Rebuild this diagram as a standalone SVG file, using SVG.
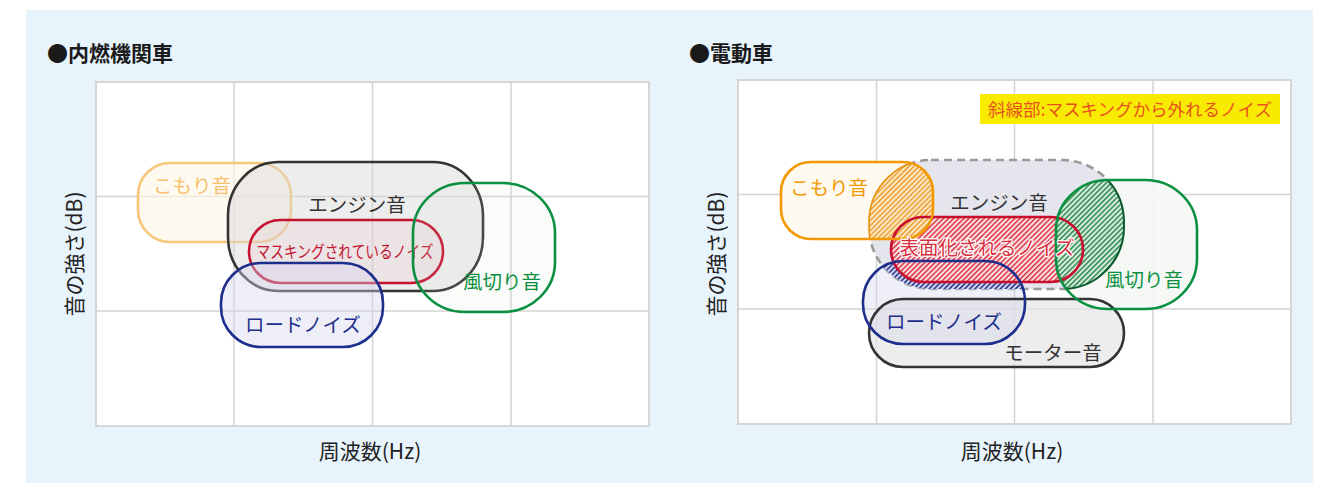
<svg xmlns="http://www.w3.org/2000/svg" width="1325" height="483" viewBox="0 0 1325 483">
<style>
text{font-family:"Noto Sans CJK JP","Noto Sans",sans-serif;}
.t{font-size:19.5px;text-anchor:middle;}
.title{font-size:21px;font-weight:bold;fill:#1a1a1a;}
.ax{font-size:21px;text-anchor:middle;fill:#222;}
.plot{fill:#fff;stroke:#d6d6d6;stroke-width:2;}
.grid{stroke:#d4d4d4;stroke-width:1.5;fill:none;}
.sw{stroke-width:2.6;}
</style>
<defs>
<pattern id="hRed" width="3.6" height="6" patternUnits="userSpaceOnUse" patternTransform="rotate(45)"><rect width="3.6" height="6" fill="#fbe1e3"/><rect width="1.5" height="6" fill="#dc3040"/></pattern>
<pattern id="hOr" width="3.6" height="6" patternUnits="userSpaceOnUse" patternTransform="rotate(45)"><rect width="3.6" height="6" fill="#fde8c6"/><rect width="1.4" height="6" fill="#eb9a2a"/></pattern>
<pattern id="hGr" width="3.6" height="6" patternUnits="userSpaceOnUse" patternTransform="rotate(45)"><rect width="3.6" height="6" fill="#d9ecdd"/><rect width="1.5" height="6" fill="#2a8a4e"/></pattern>
<pattern id="hBl" width="3.6" height="6" patternUnits="userSpaceOnUse" patternTransform="rotate(45)"><rect width="3.6" height="6" fill="#d4d6ec"/><rect width="1.5" height="6" fill="#1d2e8c"/></pattern>
<clipPath id="cEng"><rect x="869" y="160" width="255" height="129" rx="62" ry="62"/></clipPath>
<clipPath id="cKom"><rect x="781" y="162" width="152" height="77" rx="30" ry="30"/></clipPath>
<clipPath id="cGreen"><rect x="1056" y="180" width="141" height="129" rx="52" ry="50"/></clipPath>
</defs>

<rect x="0" y="0" width="1325" height="483" fill="#ffffff"/>
<rect x="26" y="10" width="1287" height="473" fill="#e8f4fc"/>

<!-- Left panel -->
<g id="left-panel">
<text class="title" x="47" y="61">●内燃機関車</text>
<rect class="plot" x="96" y="82" width="553" height="344"/>
<path class="grid" d="M234,82V426M372.5,82V426M511,82V426M96,196.5H649M96,311H649"/>
<text class="ax" transform="translate(73,254) rotate(-90)" dominant-baseline="central">音の強さ(dB)</text>
<text class="ax" x="370" y="459">周波数(Hz)</text>
</g>

<g id="left-komori">
<rect x="138" y="163" width="153" height="79" rx="32" ry="32" fill="#fff6e6" fill-opacity="0.6" stroke="#f8c678" class="sw"/>
<text class="t" x="192" y="193" fill="#f6c16e">こもり音</text>
</g>
<g id="left-engine">
<rect x="228" y="162" width="255" height="129" rx="50" ry="54" fill="#d8d8d8" fill-opacity="0.45" stroke="#333" class="sw"/>
<text class="t" x="357" y="212" fill="#333">エンジン音</text>
</g>
<g id="left-masking">
<rect x="249" y="220" width="194" height="63" rx="31.5" ry="31.5" fill="#e8c8cc" fill-opacity="0.25" stroke="#c4122f" class="sw"/>
<text x="345" y="258" font-size="16.5" text-anchor="middle" fill="#c4122f" textLength="177" lengthAdjust="spacingAndGlyphs">マスキングされているノイズ</text>
</g>
<g id="left-road">
<rect x="221" y="263" width="162" height="84" rx="40" ry="40" fill="#d4d4ee" fill-opacity="0.4" stroke="#1d2e8c" class="sw"/>
<text class="t" x="303" y="332" fill="#1d2e8c">ロードノイズ</text>
</g>
<g id="left-wind">
<rect x="413" y="183" width="142" height="129" rx="52" ry="50" fill="#d8e8d8" fill-opacity="0.12" stroke="#0a9040" class="sw"/>
<text class="t" x="502" y="289" fill="#0a9040" font-size="18.5">風切り音</text>
</g>

<!-- Right panel -->
<g id="right-panel">
<text class="title" x="689" y="61">●電動車</text>
<rect class="plot" x="738" y="80" width="553" height="344"/>
<path class="grid" d="M876.5,80V424M1014.5,80V424M1153,80V424M738,194.5H1291M738,309H1291"/>
<text class="ax" transform="translate(715,254) rotate(-90)" dominant-baseline="central">音の強さ(dB)</text>
<text class="ax" x="1012" y="459">周波数(Hz)</text>
</g>

<g id="legend">
<rect x="980" y="94" width="300" height="30" fill="#f8ea00"/>
<text x="1130" y="116" font-size="17.5" text-anchor="middle" fill="#e8541e" textLength="284" lengthAdjust="spacingAndGlyphs">斜線部:マスキングから外れるノイズ</text>
</g>

<g id="right-engine">
<rect x="869" y="160" width="255" height="129" rx="62" ry="62" fill="#e5e5ee" stroke="#9a9a9a" stroke-width="2.6" stroke-dasharray="8 5"/>
</g>
<g id="right-motor">
<rect x="869" y="299" width="255" height="68" rx="34" ry="34" fill="#e6e6e6" fill-opacity="0.7"/>
</g>
<g id="right-komori">
<rect x="781" y="162" width="152" height="77" rx="30" ry="30" fill="#fffaf0"/>
</g>
<g id="right-road">
<rect x="863" y="261" width="162" height="83" rx="40" ry="40" fill="#d0d0ec" fill-opacity="0.35"/>
<rect x="863" y="261" width="162" height="83" rx="40" ry="40" fill="url(#hBl)" clip-path="url(#cEng)"/>
</g>
<g id="right-surface">
<rect x="891" y="217" width="192" height="65" rx="32.5" ry="32.5" fill="url(#hRed)"/>
</g>
<g id="right-komori-hatch">
<rect x="781" y="162" width="152" height="77" rx="30" ry="30" fill="url(#hOr)" clip-path="url(#cEng)"/>
<rect x="869" y="160" width="255" height="129" rx="62" ry="62" fill="none" stroke="#e8900a" stroke-width="1.6" clip-path="url(#cKom)"/>
</g>
<g id="right-wind">
<rect x="1056" y="180" width="141" height="129" rx="52" ry="50" fill="#f4f7f4" fill-opacity="0.9"/>
<rect x="1056" y="180" width="141" height="129" rx="52" ry="50" fill="url(#hGr)" clip-path="url(#cEng)"/>
<rect x="869" y="160" width="255" height="129" rx="62" ry="62" fill="none" stroke="#0b5a2c" stroke-width="2" clip-path="url(#cGreen)"/>
</g>
<g id="right-strokes">
<rect x="891" y="217" width="192" height="65" rx="32.5" ry="32.5" fill="none" stroke="#c8102e" class="sw"/>
<rect x="781" y="162" width="152" height="77" rx="30" ry="30" fill="none" stroke="#f39800" class="sw"/>
<rect x="869" y="299" width="255" height="68" rx="34" ry="34" fill="none" stroke="#333" class="sw"/>
<rect x="863" y="261" width="162" height="83" rx="40" ry="40" fill="none" stroke="#1d2e8c" class="sw"/>
<rect x="1056" y="180" width="141" height="129" rx="52" ry="50" fill="none" stroke="#0a9040" class="sw"/>
</g>
<g id="right-labels">
<text class="t" x="829" y="195" fill="#f39800">こもり音</text>
<text class="t" x="999" y="210" fill="#333">エンジン音</text>
<text class="t" x="987" y="255" fill="#d8303f" stroke="#ffffff" stroke-width="2.5" paint-order="stroke" stroke-linejoin="round">表面化されるノイズ</text>
<text class="t" x="944" y="329" fill="#1d2e8c">ロードノイズ</text>
<text class="t" x="1144" y="287" fill="#0a9040" font-size="18.5">風切り音</text>
<text class="t" x="1053" y="360" fill="#333">モーター音</text>
</g>
</svg>
